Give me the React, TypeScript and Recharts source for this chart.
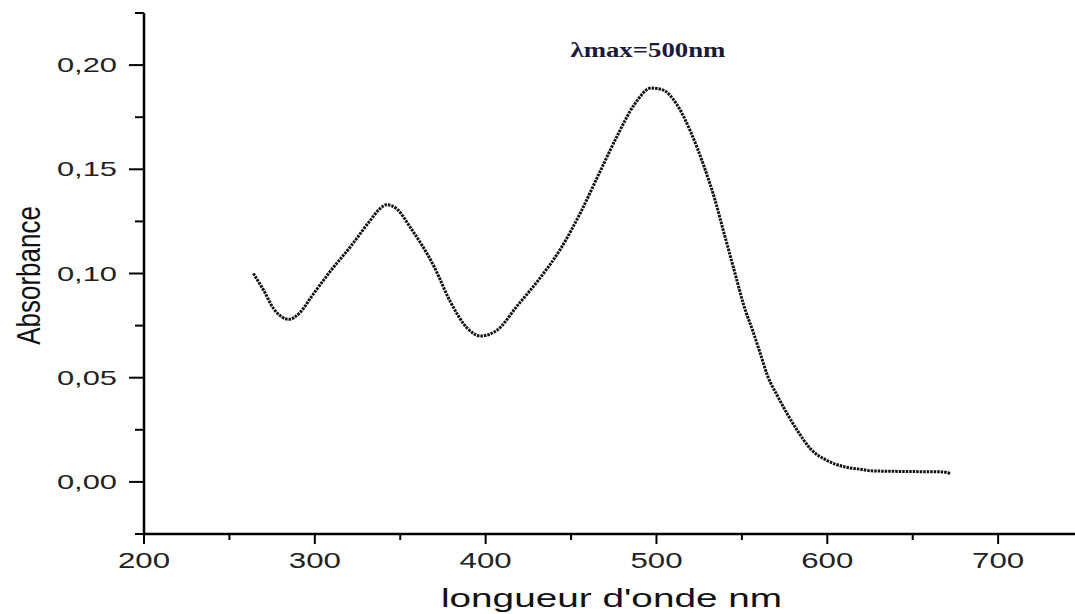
import React from "react";
import { LineChart, Line, XAxis, YAxis, ReferenceDot } from "recharts";

// wavelength (nm) and absorbance
const wavelengths = [
  264, 270, 276, 285, 291, 299, 309, 321, 332, 338, 342, 348, 356, 370, 379,
  389, 397, 407, 418, 432, 444, 456, 467, 477, 487, 497, 504, 512, 520, 528,
  534, 540, 546, 551, 557, 561, 565, 571, 577, 583, 590, 600, 612, 620, 626,
  645, 667, 672,
];
const absorbance = [
  0.1, 0.092, 0.083, 0.078, 0.081, 0.09, 0.101, 0.113, 0.125, 0.131, 0.133,
  0.131, 0.122, 0.103, 0.087, 0.074, 0.07, 0.073, 0.084, 0.098, 0.112, 0.13,
  0.149, 0.166, 0.181, 0.189, 0.188, 0.181, 0.168, 0.151, 0.136, 0.118, 0.1,
  0.085, 0.071, 0.061, 0.051, 0.041, 0.032, 0.024, 0.016, 0.0102, 0.0069,
  0.006, 0.0053, 0.005, 0.0048, 0.004,
];
const xTicks = [200, 250, 300, 350, 400, 450, 500, 550, 600, 650, 700];
const yTicks = [-0.025, 0, 0.025, 0.05, 0.075, 0.1, 0.125, 0.15, 0.175, 0.2, 0.225];

const data = wavelengths.map((nm, i) => ({ nm, abs: absorbance[i] }));

const FONT = "'Liberation Sans', Arial, sans-serif";

const XTick = ({ x, y, payload }: any) => {
  const major = payload.value % 100 === 0;
  return (
    <g>
      <line x1={x} x2={x} y1={y} y2={y + (major ? 10 : 6)} stroke="#000" strokeWidth={2} />
      {major && (
        <text
          transform={`translate(${x},${y + 34}) scale(1.42,1)`}
          textAnchor="middle"
          fontFamily={FONT}
          fontSize={22}
          fill="#222"
        >
          {payload.value}
        </text>
      )}
    </g>
  );
};

const YTick = ({ x, y, payload }: any) => {
  const v = payload.value * 20;
  const major = Math.abs(v - Math.round(v)) < 1e-6;
  return (
    <g>
      <line x1={x - (major ? 15 : 9)} x2={x} y1={y} y2={y} stroke="#000" strokeWidth={2} />
      {major && (
        <text
          transform={`translate(${x - 27},${y + 7}) scale(1.47,1)`}
          textAnchor="end"
          fontFamily={FONT}
          fontSize={21}
          fill="#222"
        >
          {payload.value.toFixed(2).replace(".", ",")}
        </text>
      )}
    </g>
  );
};

export default function App() {
  return (
    <div style={{ position: "absolute", left: 0, top: 0, background: "#fff" }}>
      <LineChart
        width={1075}
        height={614}
        data={data}
        margin={{ top: 13, right: 0, left: 0, bottom: 0 }}
      >
        <XAxis
          dataKey="nm"
          type="number"
          domain={[200, 745]}
          ticks={xTicks}
          interval={0}
          height={80}
          tickSize={0}
          tickMargin={0}
          tickLine={false}
          tick={<XTick />}
          axisLine={{ stroke: "#000", strokeWidth: 2.5 }}
          label={{
            content: ({ viewBox }: any) => (
              <text
                transform={`translate(${viewBox.x + viewBox.width / 2 + 2},${viewBox.y + 73}) scale(1.55,1)`}
                textAnchor="middle"
                fontFamily={FONT}
                fontSize={25}
                fill="#111"
              >
                longueur d'onde nm
              </text>
            ),
          }}
        />
        <YAxis
          type="number"
          domain={[-0.025, 0.225]}
          ticks={yTicks}
          interval={0}
          width={144}
          tickSize={0}
          tickMargin={0}
          tickLine={false}
          tick={<YTick />}
          axisLine={{ stroke: "#000", strokeWidth: 2.5 }}
          label={{
            content: ({ viewBox }: any) => (
              <text
                transform={`translate(40,${viewBox.y + viewBox.height / 2 + 2}) scale(1.3,1) rotate(-90)`}
                textAnchor="middle"
                fontFamily={FONT}
                fontSize={26}
                fill="#111"
              >
                Absorbance
              </text>
            ),
          }}
        />
        <Line
          type="monotone"
          dataKey="abs"
          stroke="#111"
          strokeWidth={3}
          strokeDasharray="2.5 1"
          dot={false}
          isAnimationActive={false}
        />
        <ReferenceDot
          x={495}
          y={0.204}
          r={0}
          stroke="none"
          fill="none"
          label={{
            content: ({ viewBox }: any) => (
              <text
                transform={`translate(${viewBox.x},${viewBox.y}) scale(1.34,1)`}
                textAnchor="middle"
                fontFamily="'Liberation Serif', 'Times New Roman', serif"
                fontWeight="bold"
                fontSize={20}
                fill="#1a1a3c"
              >
                λmax=500nm
              </text>
            ),
          }}
        />
      </LineChart>
    </div>
  );
}
